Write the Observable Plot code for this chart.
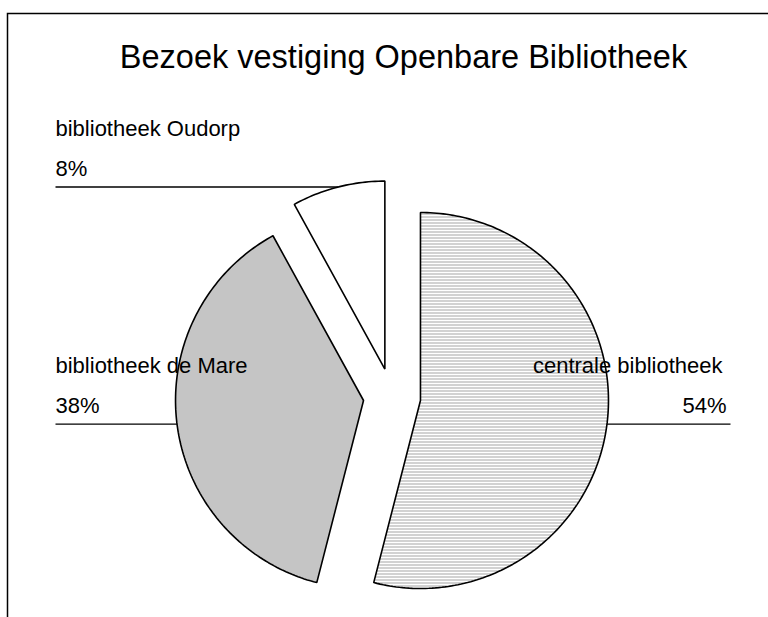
<!DOCTYPE html>
<html><head><meta charset="utf-8">
<script src="https://cdn.jsdelivr.net/npm/d3@7"></script>
<script src="https://cdn.jsdelivr.net/npm/@observablehq/plot@0.6"></script>
<style>body{margin:0;background:#fff}#chart svg{display:block}</style>
</head><body><div id="chart"></div>
<script>
// ---- data ----
const chartTitle = "Bezoek vestiging Openbare Bibliotheek";
const categories = ["centrale bibliotheek", "bibliotheek de Mare", "bibliotheek Oudorp"];
const values = [54, 38, 8];
const percentLabels = ["54%", "38%", "8%"];

// ---- layout ----
const W = 768, H = 617;
const cx = 391.5, cy = 396.4, R = 188, explode = 28.7;
const sliceFills = ["url(#hlines)", "url(#dots)", "#ffffff"];

const arcs = d3.pie().sort(null).value(d => d)(values);
const slicePts = [];
const labels = [];
arcs.forEach((a, i) => {
  const cat = categories[i];
  const mid = (a.startAngle + a.endAngle) / 2;
  const ox = cx + explode * Math.sin(mid), oy = cy - explode * Math.cos(mid);
  const n = Math.max(2, Math.ceil((a.endAngle - a.startAngle) / (Math.PI / 180)));
  slicePts.push({cat, x: ox, y: oy});
  for (let k = 0; k <= n; k++) {
    const t = a.startAngle + (a.endAngle - a.startAngle) * k / n;
    slicePts.push({cat, x: ox + R * Math.sin(t), y: oy - R * Math.cos(t)});
  }
  const mx = ox + R * Math.sin(mid), my = oy - R * Math.cos(mid);
  const right = Math.sin(mid) > 0;
  labels.push({cat, pct: percentLabels[i], mx, my, right,
    lx: right ? 730 : 55, nx: right ? 722 : 55, px: right ? 726 : 55});
});
const leftLabels = labels.filter(d => !d.right);
const rightLabels = labels.filter(d => d.right);

const font = "'Liberation Sans', Arial, sans-serif";
const textOpts = (anchor) => ({lineAnchor: "bottom", fontSize: 22, fill: "#000", textAnchor: anchor});
const plot = Plot.plot({
  width: W, height: H,
  margin: 0,
  x: {domain: [0, W], range: [0, W], axis: null},
  y: {domain: [0, H], range: [0, H], axis: null},
  color: {type: "ordinal", domain: categories, range: sliceFills},
  style: {fontFamily: font, background: "#fff"},
  marks: [
    Plot.frame({stroke: "#000", strokeWidth: 1.5, insetTop: 13, insetLeft: 7, insetRight: -20, insetBottom: -20}),
    Plot.line(slicePts, {x: "x", y: "y", z: "cat", fill: "cat", stroke: "#000", strokeWidth: 1.6,
      curve: "linear-closed", strokeLinejoin: "miter"}),
    Plot.link(labels, {x1: "lx", y1: "my", x2: "mx", y2: "my", stroke: "#000", strokeWidth: 1.3}),
    Plot.text(leftLabels, {x: "nx", y: d => d.my - 51, text: "cat", ...textOpts("start")}),
    Plot.text(leftLabels, {x: "px", y: d => d.my - 11, text: "pct", ...textOpts("start")}),
    Plot.text(rightLabels, {x: "nx", y: d => d.my - 51, text: "cat", ...textOpts("end")}),
    Plot.text(rightLabels, {x: "px", y: d => d.my - 11, text: "pct", ...textOpts("end")}),
    Plot.text([chartTitle], {frameAnchor: "top", dx: 19, dy: 67, lineAnchor: "bottom", fontSize: 32.5, fill: "#000"})
  ]
});

// pattern definitions
const svg = d3.select(plot);
const defs = svg.insert("defs", ":first-child");
const hl = defs.append("pattern").attr("id", "hlines").attr("patternUnits", "userSpaceOnUse")
  .attr("width", 4).attr("height", 3);
hl.append("rect").attr("width", 4).attr("height", 3).attr("fill", "#fff");
hl.append("rect").attr("width", 4).attr("height", 1).attr("fill", "#a4a4a4");
const dt = defs.append("pattern").attr("id", "dots").attr("patternUnits", "userSpaceOnUse")
  .attr("width", 2).attr("height", 2);
dt.append("rect").attr("width", 2).attr("height", 2).attr("fill", "#fff");
dt.append("rect").attr("width", 1).attr("height", 1).attr("fill", "#8a8a8a");
dt.append("rect").attr("x", 1).attr("y", 1).attr("width", 1).attr("height", 1).attr("fill", "#8a8a8a");

document.getElementById("chart").appendChild(plot);
</script>
</body></html>
